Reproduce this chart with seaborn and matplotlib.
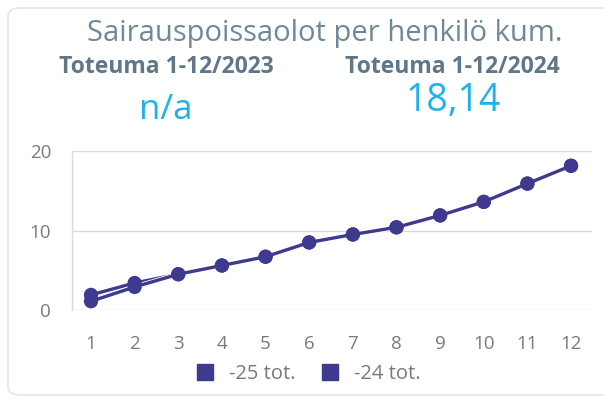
import matplotlib
matplotlib.use("Agg")
import matplotlib.pyplot as plt
import matplotlib.patheffects as pe
from matplotlib.lines import Line2D
from matplotlib.patches import FancyBboxPatch
import seaborn as sns
import pandas as pd

# Kumulatiiviset sairauspoissaolot per henkilö, kuukausittain
months = list(range(1, 13))
tot_25 = [1.9, 3.4, 4.5, 5.6, 6.7, 8.5, 9.5, 10.4, 11.9, 13.6, 15.9, 18.14]
tot_24 = [1.1, 2.9, 4.5, 5.6, 6.7, 8.5, 9.5, 10.4, 11.9, 13.6, 15.9, 18.14]
series_names = ["-25 tot.", "-24 tot."]
y_ticks = [0, 10, 20]

title = "Sairauspoissaolot per henkilö kum."
kpi_labels = ["Toteuma 1-12/2023", "Toteuma 1-12/2024"]
kpi_values = ["n/a", "18,14"]

df = pd.concat([
    pd.DataFrame({"kk": months, "arvo": tot_25, "sarja": series_names[0]}),
    pd.DataFrame({"kk": months, "arvo": tot_24, "sarja": series_names[1]}),
])

navy = "#3d3a8f"
sns.set_theme(style="white")
plt.rcParams["font.family"] = ["Open Sans", "DejaVu Sans"]

W, H = 604, 403
fig = plt.figure(figsize=(W / 100, H / 100), dpi=100)

# kortin reunus (oikea reuna jää kuvan ulkopuolelle)
card = FancyBboxPatch((8 / W, 8 / H), 1.2, (H - 16) / H,
                      boxstyle="round,pad=0,rounding_size=0.02",
                      transform=fig.transFigure, fc="white", ec="#e6e6e6",
                      lw=1.2, zorder=-10)
fig.patches.append(card)

ax = fig.add_axes([72 / W, 1 - 310 / H, (592 - 72) / W, (310 - 151) / H])
ax.set_facecolor("none")

sns.lineplot(data=df, x="kk", y="arvo", hue="sarja", palette=[navy, navy],
             linewidth=2.4, legend=False, ax=ax)
for ln in ax.lines:
    ln.set_path_effects([pe.Stroke(linewidth=3.6, foreground="white"), pe.Normal()])
sns.scatterplot(data=df, x="kk", y="arvo", hue="sarja", palette=[navy, navy],
                s=105, linewidth=0, legend=False, ax=ax, zorder=3)

ax.set_xlim(0.565, 12.48)
ax.set_ylim(0, 20)
ax.set_xticks(months)
ax.set_yticks(y_ticks)
ax.yaxis.grid(True, color="#d9d9d9", linewidth=1)
ax.set_axisbelow(True)
for s in ["top", "right", "bottom"]:
    ax.spines[s].set_visible(False)
ax.spines["left"].set_color("#d9d9d9")
ax.spines["left"].set_linewidth(1)
ax.tick_params(axis="x", length=0, pad=18, labelsize=13.5, labelcolor="#7a7a7a")
ax.tick_params(axis="y", length=0, pad=15, labelsize=13.5, labelcolor="#7a7a7a")
ax.set_xlabel("")
ax.set_ylabel("")

handles = [Line2D([], [], marker="s", color=navy, linestyle="none", markersize=12)
           for _ in series_names]
fig.legend(handles, series_names, loc="center", bbox_to_anchor=(308 / W, 1 - 374 / H),
           ncol=2, frameon=False, fontsize=14.5, labelcolor="#7a7a7a",
           handletextpad=0.7, columnspacing=1.2, handlelength=1.0)

fig.text(325 / W, 1 - 33 / H, title, ha="center", va="center",
         fontsize=21, color="#6f8898")
for cx, lab in zip([166, 452], kpi_labels):
    fig.text(cx / W, 1 - 73 / H, lab, ha="center", va="baseline",
             fontsize=16.5, fontweight="bold", color="#5f7788")
for cx, by, fs, val in zip([166, 453], [119, 111], [25, 27], kpi_values):
    fig.text(cx / W, 1 - by / H, val, ha="center", va="baseline",
             fontsize=fs, color="#1fb2ea")

fig.savefig("out.png", dpi=100)
